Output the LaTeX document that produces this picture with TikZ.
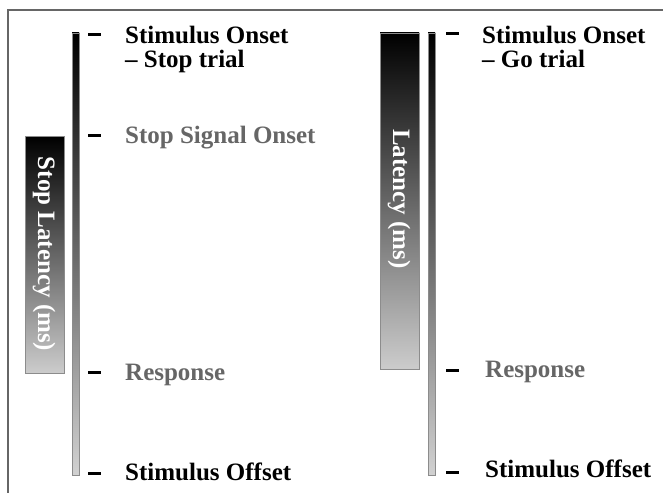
\documentclass[tikz,border=0pt]{standalone}
\usepackage{fontspec}
\setmainfont{Liberation Serif}

\begin{document}
\begin{tikzpicture}[x=1pt,y=-1pt,
    lab/.style={anchor=base west,inner sep=0pt,font=\fontsize{25}{24}\selectfont\bfseries},
    grey/.style={text=black!60},
    tick/.style={fill=black,inner sep=0pt,minimum width=13pt,minimum height=3pt},
    bar/.style={draw=black!45,line width=0.6pt},
    side/.style={inner sep=0pt,rotate=-90,text=white,font=\fontsize{25}{28}\selectfont\bfseries}]
\useasboundingbox (0,0) rectangle (663,492);
%frame
\draw[line width=2pt,black!60] (8,500) -- (8,10) -- (670,10);

\begin{scope}
    \shade[bar,top color=black,middle color=black,bottom color=black!20] (25,136) rectangle (64,373);
    \shade[bar,top color=black,bottom color=black!18] (72,33) rectangle (79,475);
    \node[side] (SL) at (44,254) {Stop Latency (ms)};
    \node[tick] (T1) at (94.5,35) {};
    \node[tick] (T2) at (94.5,135) {};
    \node[tick] (T3) at (94.5,372) {};
    \node[tick] (T4) at (94.5,473) {};
    \node[lab,anchor=north west,align=left] (A) at (125,26) {Stimulus Onset\\– Stop trial};
    \node[lab,grey] (B) at (125,143) {Stop Signal Onset};
    \node[lab,grey] (C) at (125,380) {Response};
    \node[lab] (D) at (125,480) {Stimulus Offset};
\end{scope}

\begin{scope}
    \shade[bar,top color=black,bottom color=black!20] (380,33) rectangle (419,369);
    \shade[bar,top color=black,bottom color=black!18] (428,33) rectangle (435,475);
    \node[side] (L) at (399,199) {Latency (ms)};
    \node[tick] (t1) at (452.5,34) {};
    \node[tick] (t3) at (452.5,370) {};
    \node[tick] (t4) at (452.5,472) {};
    \node[lab,anchor=north west,align=left] (a) at (482,26) {Stimulus Onset\\– Go trial};
    \node[lab,grey] (c) at (485,377) {Response};
    \node[lab] (d) at (485,477) {Stimulus Offset};
\end{scope}
\end{tikzpicture}
\end{document}
